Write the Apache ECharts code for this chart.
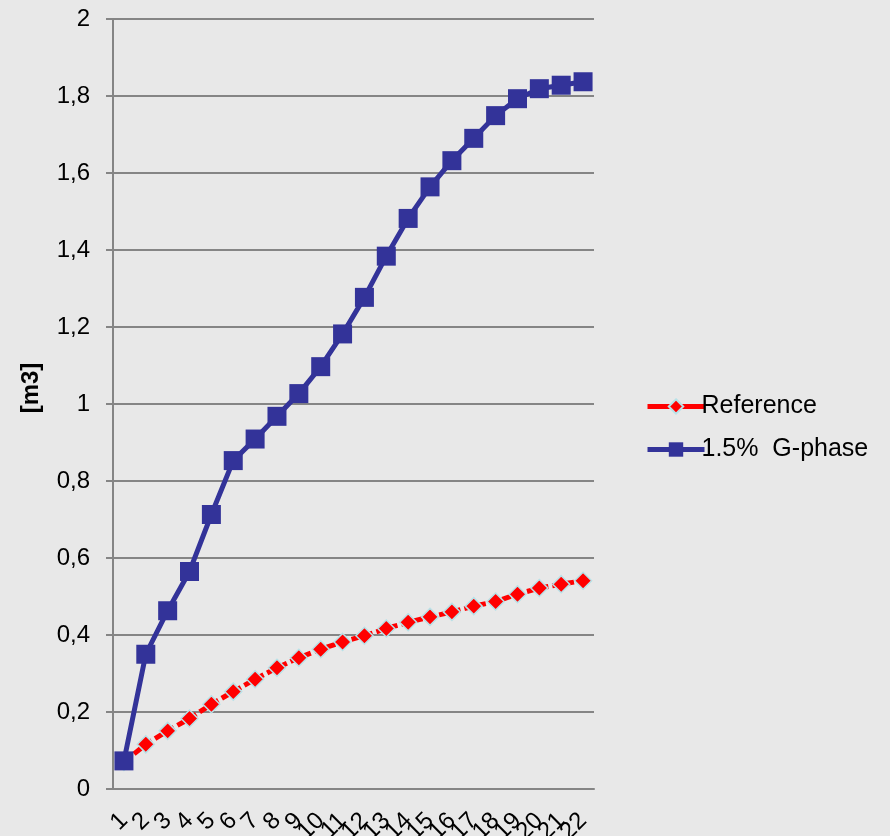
<!DOCTYPE html>
<html>
<head>
<meta charset="utf-8">
<script src="https://cdn.jsdelivr.net/npm/echarts@6/dist/echarts.min.js"></script>
<style>
  html, body { margin: 0; padding: 0; background: #e8e8e8; }
  #chart { width: 890px; height: 836px; }
</style>
</head>
<body>
<div id="chart"></div>
<script>
// x-axis categories (time steps)
const categories = ['1','2','3','4','5','6','7','8','9','10','11','12','13','14','15','16','17','18','19','20','21','22'];

// cumulative volume [m3]
const referenceValues = [0.07, 0.116, 0.151, 0.183, 0.220, 0.253, 0.285, 0.315, 0.341, 0.363, 0.382,
  0.398, 0.417, 0.433, 0.447, 0.460, 0.475, 0.487, 0.506, 0.522, 0.532, 0.541];
const gphaseValues = [0.073, 0.350, 0.463, 0.565, 0.713, 0.853, 0.909, 0.968, 1.027, 1.097, 1.182,
  1.277, 1.384, 1.482, 1.564, 1.632, 1.690, 1.749, 1.793, 1.819, 1.828, 1.837];

const seriesNames = ['Reference', '1.5%  G-phase'];
const yTicks = { min: 0, max: 2, interval: 0.2 };

const font = '"Liberation Sans", Arial, sans-serif';
const chart = echarts.init(document.getElementById('chart'));

chart.setOption({
  backgroundColor: '#e8e8e8',
  animation: false,
  textStyle: { fontFamily: font },
  grid: { left: 113, right: 296, top: 19, bottom: 47, containLabel: false, outerBoundsMode: 'none' },
  legend: {
    orient: 'vertical',
    left: 640,
    top: 389,
    itemWidth: 57,
    itemHeight: 18,
    itemGap: 18,
    lineStyle: { width: 5, type: 'solid' },
    textStyle: { fontFamily: font, fontSize: 25, lineHeight: 25, color: '#000', padding: [0, 0, 0, -8] },
    data: seriesNames
  },
  xAxis: {
    type: 'category',
    data: categories,
    boundaryGap: true,
    axisLine: { lineStyle: { color: '#858585', width: 2 } },
    axisTick: { length: 7, lineStyle: { color: '#858585', width: 2 } },
    axisLabel: {
      rotate: 45,
      interval: 0,
      margin: 28,
      fontSize: 24,
      color: '#000',
      fontFamily: font
    }
  },
  yAxis: {
    type: 'value',
    min: yTicks.min,
    max: yTicks.max,
    interval: yTicks.interval,
    name: '[m3]',
    nameLocation: 'middle',
    nameGap: 70,
    nameRotate: 90,
    nameTextStyle: { fontSize: 24, fontWeight: 'bold', color: '#000', fontFamily: font, padding: [0, 0, 0, 32] },
    axisLine: { show: true, lineStyle: { color: '#858585', width: 2 } },
    axisTick: { show: true, length: 7, lineStyle: { color: '#858585', width: 2 } },
    splitLine: { lineStyle: { color: '#858585', width: 2 } },
    axisLabel: {
      fontSize: 24,
      color: '#000',
      margin: 23,
      fontFamily: font,
      formatter: v => String(Math.round(v * 10) / 10).replace('.', ',')
    }
  },
  series: [
    {
      name: seriesNames[0],
      type: 'line',
      data: referenceValues,
      symbol: 'diamond',
      symbolSize: 17,
      z: 2,
      lineStyle: { color: '#ff0000', width: 5, type: [9, 4] },
      itemStyle: { color: '#ff0000', borderColor: '#b8e2e8', borderWidth: 1.5 }
    },
    {
      name: seriesNames[1],
      type: 'line',
      data: gphaseValues,
      symbol: 'rect',
      symbolSize: 19,
      z: 3,
      lineStyle: { color: '#333399', width: 5 },
      itemStyle: { color: '#333399' }
    }
  ]
});
</script>
</body>
</html>
